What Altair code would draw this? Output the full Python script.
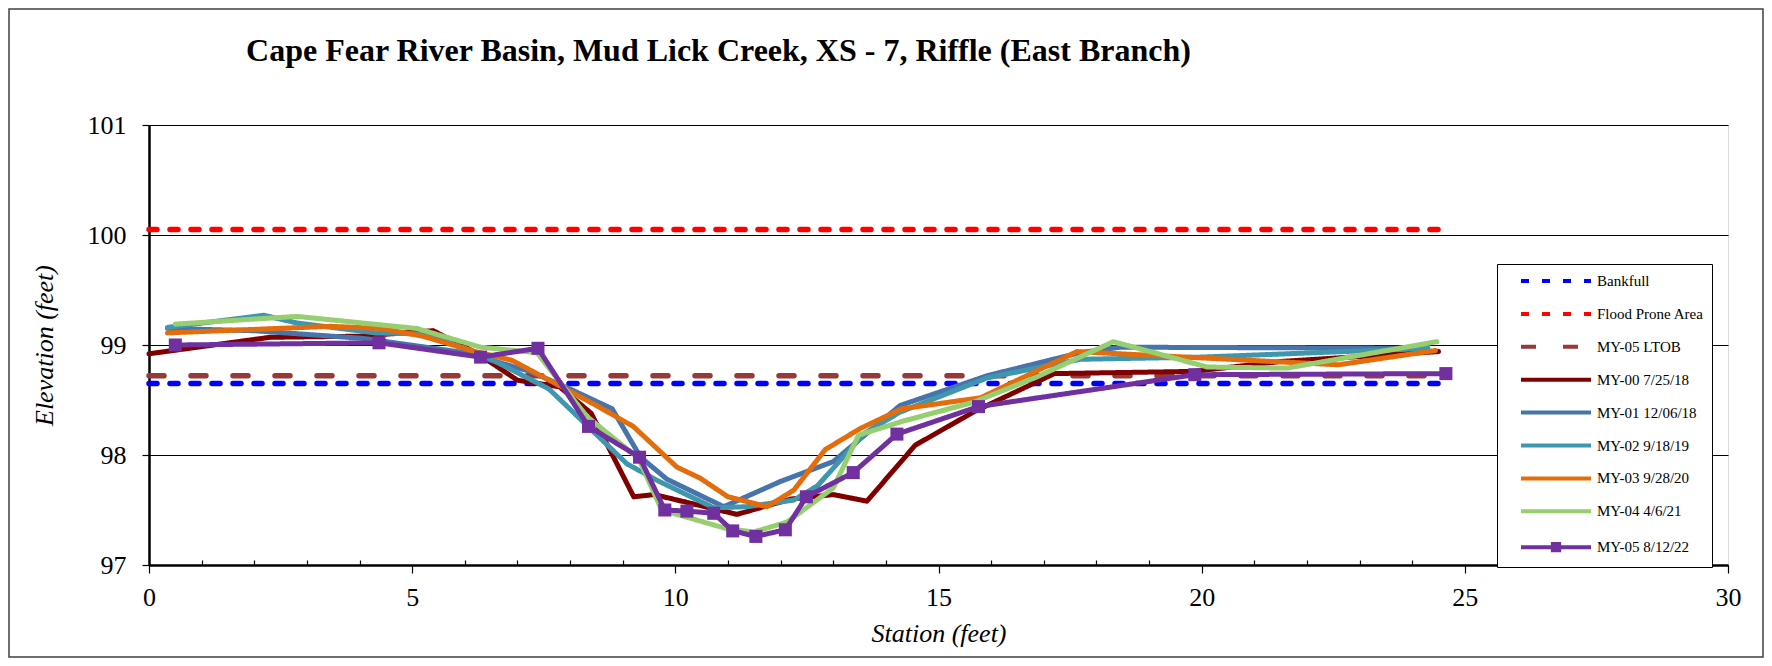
import altair as alt
import pandas as pd

# ---------------- data ----------------
series_names = ["Bankfull", "Flood Prone Area", "MY-05 LTOB", "MY-00 7/25/18",
                "MY-01 12/06/18", "MY-02 9/18/19", "MY-03 9/28/20", "MY-04 4/6/21",
                "MY-05 8/12/22"]
series_colors = ["#0000FF", "#FF0000", "#963A38", "#800000", "#4674AB",
                 "#3F97AF", "#E46C0A", "#97CE70", "#7030A0"]
series_dashes = [[8, 13], [8, 13], [15, 27], [1, 0], [1, 0], [1, 0], [1, 0], [1, 0], [1, 0]]

ref_station = [0.0, 24.5]
bankfull_elev = 98.65
flood_elev = 100.05
ltob_elev = 98.72

my00_station = [0.0, 2.3, 4.0, 5.4, 6.25, 7.0, 7.8, 8.4, 9.21, 9.6, 11.17, 12.2, 13.0,
                13.64, 14.56, 15.7, 17.2, 19.84, 21.5, 24.5]
my00_elev = [98.92, 99.07, 99.08, 99.13, 98.92, 98.68, 98.62, 98.38, 97.62, 97.64, 97.46,
             97.6, 97.64, 97.58, 98.09, 98.4, 98.74, 98.76, 98.85, 98.94]

my01_station = [0.35, 2.0, 4.07, 6.0, 7.24, 8.0, 8.8, 9.34, 9.84, 10.92, 12.0, 13.0,
                14.27, 15.92, 17.69, 18.45, 24.2]
my01_elev = [99.15, 99.13, 99.06, 98.93, 98.76, 98.6, 98.42, 97.98, 97.78, 97.53, 97.76,
             97.94, 98.45, 98.72, 98.93, 98.98, 98.97]

my02_station = [0.35, 2.18, 2.81, 4.3, 5.2, 6.3, 7.6, 8.58, 9.08, 9.65, 10.73, 11.36,
                12.25, 12.7, 13.6, 14.27, 15.92, 17.69, 20.0, 24.3]
my02_elev = [99.16, 99.27, 99.2, 99.11, 99.1, 98.92, 98.6, 98.15, 97.92, 97.77, 97.52,
             97.53, 97.59, 97.72, 98.2, 98.39, 98.7, 98.87, 98.89, 98.97]

my03_station = [0.35, 3.45, 4.4, 5.2, 6.2, 6.9, 7.8, 8.5, 9.2, 10.03, 10.47, 11.0, 11.74,
                12.25, 12.85, 13.51, 14.3, 15.8, 17.63, 18.45, 22.6, 24.44]
my03_elev = [99.11, 99.17, 99.15, 99.08, 98.94, 98.86, 98.63, 98.45, 98.26, 97.89, 97.79,
             97.62, 97.53, 97.68, 98.05, 98.24, 98.42, 98.52, 98.94, 98.92, 98.82, 98.95]

my04_station = [0.5, 2.81, 5.09, 6.3, 7.37, 8.32, 9.3, 9.74, 10.98, 11.49, 12.12, 13.0,
                13.48, 14.27, 15.67, 16.87, 18.32, 20.1, 21.62, 24.47]
my04_elev = [99.19, 99.26, 99.15, 98.98, 98.93, 98.35, 97.97, 97.5, 97.33, 97.3, 97.39,
             97.7, 98.18, 98.3, 98.48, 98.71, 99.03, 98.8, 98.79, 99.03]

my05_station = [0.5, 4.37, 6.3, 7.39, 8.35, 9.32, 9.8, 10.22, 10.73, 11.09, 11.53, 12.09,
                12.49, 13.38, 14.21, 15.76, 19.87, 24.64]
my05_elev = [99.0, 99.02, 98.89, 98.97, 98.26, 97.98, 97.5, 97.49, 97.47, 97.31, 97.26,
             97.32, 97.62, 97.84, 98.19, 98.44, 98.73, 98.74]

y_tick_values = [97, 97.5, 98, 98.5, 99, 99.5, 100, 100.5, 101]
x_tick_values = list(range(0, 31))

# ---------------- tables ----------------
ref_rows = []
for name, elev in [("Bankfull", bankfull_elev), ("Flood Prone Area", flood_elev),
                   ("MY-05 LTOB", ltob_elev)]:
    for s in ref_station:
        ref_rows.append({"series": name, "station": s, "elev": elev})
ref_df = pd.DataFrame(ref_rows)

surv_rows = []
for name, st, el in [("MY-00 7/25/18", my00_station, my00_elev),
                     ("MY-01 12/06/18", my01_station, my01_elev),
                     ("MY-02 9/18/19", my02_station, my02_elev),
                     ("MY-03 9/28/20", my03_station, my03_elev),
                     ("MY-04 4/6/21", my04_station, my04_elev),
                     ("MY-05 8/12/22", my05_station, my05_elev)]:
    for s, e in zip(st, el):
        surv_rows.append({"series": name, "station": s, "elev": e})
surv_df = pd.DataFrame(surv_rows)

FONT = "'Liberation Serif', 'Times New Roman', Times, serif"

x_axis = alt.Axis(
    title="Station (feet)", values=x_tick_values, format="d",
    labelExpr="datum.value % 5 === 0 ? datum.label : ''",
    tickSize=alt.ExprRef("datum.value % 5 === 0 ? 8 : -5"),
    tickColor="black", tickWidth=1.2, grid=False,
    labelFont=FONT, labelFontSize=26, labelColor="black", labelPadding=11,
    labelFlush=False, labelOverlap=False,
    titleFont=FONT, titleFontSize=26, titleFontStyle="italic", titleFontWeight="normal",
    titleColor="black", titlePadding=10,
    domainColor="black", domainWidth=2.5,
)
y_axis = alt.Axis(
    title="Elevation (feet)", values=y_tick_values, format="d",
    labelExpr="datum.value % 1 === 0 ? datum.label : ''",
    tickSize=alt.ExprRef("datum.value % 1 === 0 ? 7 : -5"),
    tickColor="black", tickWidth=1.2,
    grid=True, gridColor="black", gridWidth=1.2,
    gridOpacity={"condition": {"test": "datum.value % 1 === 0", "value": 1}, "value": 0},
    labelFont=FONT, labelFontSize=26, labelColor="black", labelPadding=16,
    labelFlush=False, labelOverlap=False,
    titleFont=FONT, titleFontSize=26, titleFontStyle="italic", titleFontWeight="normal",
    titleColor="black", titlePadding=30,
    domainColor="black", domainWidth=2.5,
)

x_enc = alt.X("station:Q", scale=alt.Scale(domain=[0, 30], nice=False, zero=False), axis=x_axis)
y_enc = alt.Y("elev:Q", scale=alt.Scale(domain=[97, 101], nice=False, zero=False), axis=y_axis)

sq = "datum.value === 'MY-05 8/12/22'"
legend = alt.Legend(
    title=None, orient="none", legendX=1348, legendY=139,
    padding=8, rowPadding=15.9, symbolOffset=42, labelOffset=32,
    symbolType=alt.ExprRef(sq + " ? 'M-5,0H5M-0.45,-0.45H0.45V0.45H-0.45Z' : 'M-5,0H5'"),
    symbolFillColor=alt.ExprRef(sq + " ? '#7030A0' : 'transparent'"),
    symbolSize=196, symbolStrokeWidth=4,
    labelFont=FONT, labelFontSize=15, labelColor="black", labelLimit=0,
    labelExpr="datum.label + '\\u00a0\\u00a0\\u00a0'",
    strokeColor="black", fillColor="white", cornerRadius=0,
)
color_enc = alt.Color("series:N", scale=alt.Scale(domain=series_names, range=series_colors),
                      legend=legend)
dash_enc = alt.StrokeDash("series:N", scale=alt.Scale(domain=series_names, range=series_dashes),
                          legend=legend)

frame = alt.Chart(pd.DataFrame({"k": [0]})).mark_rect(
    fillOpacity=0, stroke="#404040", strokeWidth=1.5
).encode(x=alt.value(-140), x2=alt.value(1614), y=alt.value(-116), y2=alt.value(532))

ref_lines = alt.Chart(ref_df).mark_line(strokeWidth=5.5, strokeCap="round").encode(
    x=x_enc, y=y_enc, color=color_enc, strokeDash=dash_enc)

surv_lines = alt.Chart(surv_df).mark_line(strokeWidth=5, strokeJoin="round",
                                          strokeCap="round").encode(
    x=x_enc, y=y_enc, color=color_enc, strokeDash=dash_enc)

points = alt.Chart(surv_df).transform_filter(alt.datum.series == "MY-05 8/12/22").mark_point(
    shape="square", filled=True, size=170, opacity=1, color="#7030A0"
).encode(x=x_enc, y=y_enc)

chart = alt.layer(frame, ref_lines, surv_lines, points).properties(
    width=1579, height=440,
    autosize=alt.AutoSizeParams(type="none"),
    padding={"left": 141, "top": 117, "right": 36, "bottom": 93},
    title=alt.TitleParams(
        "Cape Fear River Basin, Mud Lick Creek, XS - 7, Riffle (East Branch)",
        font=FONT, fontSize=32, fontWeight="bold", color="black",
        anchor="middle", dx=-220, offset=-60),
).configure_view(stroke="black", strokeWidth=2.5).configure(font=FONT, background="white")

chart.save("out.html", embed_options={"renderer": "svg", "actions": False})
